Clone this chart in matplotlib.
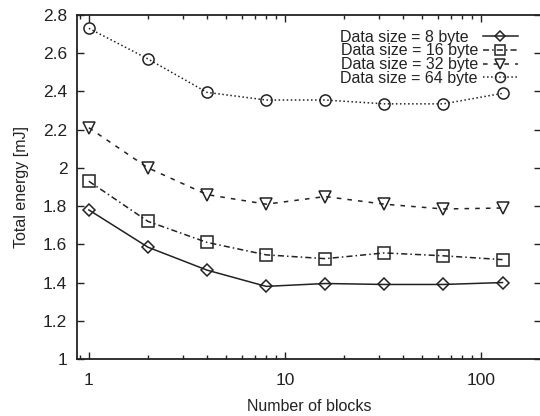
import numpy as np
import matplotlib
matplotlib.use('Agg')
import matplotlib.pyplot as plt

plt.rcParams['font.family'] = ['Liberation Sans', 'DejaVu Sans']

# data
blocks = [1, 2, 4, 8, 16, 32, 64, 128]
e_8 = [1.78, 1.585, 1.465, 1.38, 1.395, 1.39, 1.39, 1.40]
e_16 = [1.93, 1.72, 1.61, 1.545, 1.525, 1.555, 1.54, 1.52]
e_32 = [2.21, 2.00, 1.86, 1.81, 1.85, 1.81, 1.785, 1.79]
e_64 = [2.73, 2.57, 2.395, 2.355, 2.355, 2.335, 2.335, 2.39]
# two trailing spaces = one digit, so the texts line up on the left
labels = ['Data size = 8 byte  ', 'Data size = 16 byte',
          'Data size = 32 byte', 'Data size = 64 byte']

fig = plt.figure(figsize=(5.4, 4.16), dpi=100)
ax = fig.add_axes([0.1426, 0.137, 0.86, 0.827])

col = '#222222'
styles = [('-', 'D', 6), ((0, (4, 2, 1, 2)), 's', 8), ((0, (3, 4)), 'v', 8), (':', 'o', 8)]
for ys, lab, (ls, mk, ms) in zip([e_8, e_16, e_32, e_64], labels, styles):
    ax.plot(blocks, ys, linestyle=ls, marker=mk, markersize=ms, color=col,
            markerfacecolor='none', markeredgewidth=1.1, linewidth=1.1, label=lab)

ax.set_xscale('log')
ax.set_xlim(0.87, 202)
ax.set_ylim(1, 2.8)
ax.set_yticks(np.arange(1, 2.81, 0.2))
ax.set_yticklabels(['1', '1.2', '1.4', '1.6', '1.8', '2', '2.2', '2.4', '2.6', '2.8'])
ax.set_xticks([1, 10, 100])
ax.set_xticklabels(['1', '10', '100'])
ax.tick_params(direction='in', which='both', top=True, right=True, labelsize=12.5,
               length=5, width=1, colors=col)
ax.tick_params(axis='x', pad=10)
ax.tick_params(axis='y', pad=7)
ax.tick_params(which='minor', length=3)
for s in ax.spines.values():
    s.set_linewidth(1.3)
    s.set_color(col)

ax.set_xlabel('Number of blocks', fontsize=11.5, color=col, labelpad=8)
ax.set_ylabel('Total energy [mJ]', fontsize=11.5, color=col, labelpad=10)

leg = ax.legend(loc='upper right', bbox_to_anchor=(0.97, 0.985), frameon=False, markerfirst=False,
                fontsize=11.5, handlelength=2.2, labelspacing=-0.08, handletextpad=0.3,
                borderaxespad=0.2, markerscale=0.9)
for t in leg.get_texts():
    t.set_color(col)

fig.savefig('out.png', dpi=100)
